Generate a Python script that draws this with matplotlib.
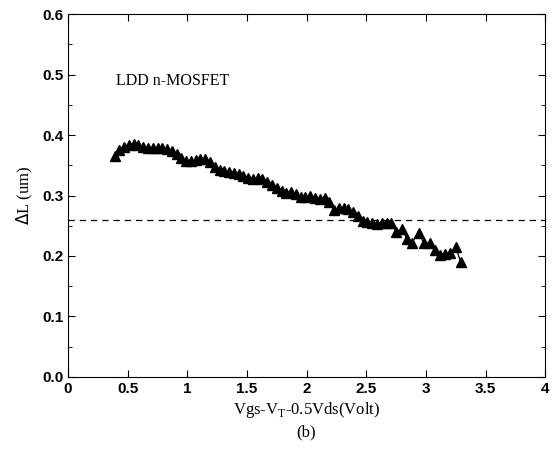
import numpy as np
import matplotlib.pyplot as plt
from matplotlib.ticker import MultipleLocator

# data
vx = [0.39, 0.43, 0.47, 0.51, 0.55, 0.59, 0.63, 0.67, 0.71, 0.75, 0.79, 0.83,
      0.87, 0.91, 0.95, 0.99, 1.03, 1.07, 1.11, 1.15, 1.19, 1.23, 1.27, 1.31,
      1.35, 1.39, 1.43, 1.47, 1.51, 1.55, 1.59, 1.63, 1.67, 1.71, 1.75, 1.79,
      1.83, 1.87, 1.91, 1.95, 1.99, 2.03, 2.07, 2.11, 2.15, 2.19, 2.23, 2.27,
      2.31, 2.35, 2.39, 2.43, 2.47, 2.51, 2.55, 2.59, 2.63, 2.67, 2.71, 2.75,
      2.80, 2.84, 2.88, 2.94, 2.98, 3.03, 3.08, 3.12, 3.16, 3.20, 3.25, 3.29]
dL = [0.365, 0.375, 0.380, 0.384, 0.385, 0.383, 0.380, 0.378, 0.379, 0.378,
      0.379, 0.377, 0.373, 0.368, 0.362, 0.357, 0.357, 0.358, 0.360, 0.361,
      0.356, 0.347, 0.343, 0.341, 0.339, 0.337, 0.336, 0.333, 0.329, 0.328,
      0.329, 0.327, 0.323, 0.318, 0.313, 0.307, 0.305, 0.306, 0.302, 0.298,
      0.297, 0.299, 0.296, 0.294, 0.296, 0.289, 0.276, 0.279, 0.280, 0.278,
      0.273, 0.266, 0.258, 0.256, 0.255, 0.253, 0.255, 0.254, 0.255, 0.240,
      0.245, 0.228, 0.222, 0.238, 0.222, 0.221, 0.210, 0.202, 0.203, 0.205,
      0.215, 0.190]
ref_level = 0.26

fig = plt.figure(figsize=(5.53, 4.59), dpi=100)
ax = fig.add_axes([0.123, 0.179, 0.863, 0.790])

ax.plot(vx, dL, color='black', lw=0.9, marker='^', ms=6.5, mfc='black', mec='black')
ax.axhline(ref_level, color='black', lw=0.9, ls=(0, (5, 4)))

ax.set_xlim(0, 4)
ax.set_ylim(0, 0.6)
ax.yaxis.set_major_locator(MultipleLocator(0.1))
ax.yaxis.set_minor_locator(MultipleLocator(0.05))
ax.set_xticks(np.arange(0, 4.01, 0.5))
ax.set_xticklabels(['0', '0.5', '1', '1.5', '2', '2.5', '3', '3.5', '4'])
ax.tick_params(which='both', direction='in', top=True, right=True)
ax.tick_params(which='major', length=5, labelsize=11)
ax.tick_params(which='minor', length=3)
for lab in ax.get_xticklabels() + ax.get_yticklabels():
    lab.set_fontweight('bold')
    lab.set_family('Liberation Sans')

ax.text(0.4, 0.49, 'LDD n-MOSFET', family='Liberation Serif', fontsize=11.5, va='center')
ax.set_xlabel(r'Vgs-V$_\mathregular{T}$-0.5Vds(Volt)', family='Liberation Serif', fontsize=12, labelpad=3)
ax.set_ylabel(r'$\Delta$L (um)', family='Liberation Serif', fontsize=12, labelpad=5)
fig.text(0.553, 0.059, '(b)', family='Liberation Serif', fontsize=12, ha='center', va='center')

fig.savefig('out.png', dpi=100)
